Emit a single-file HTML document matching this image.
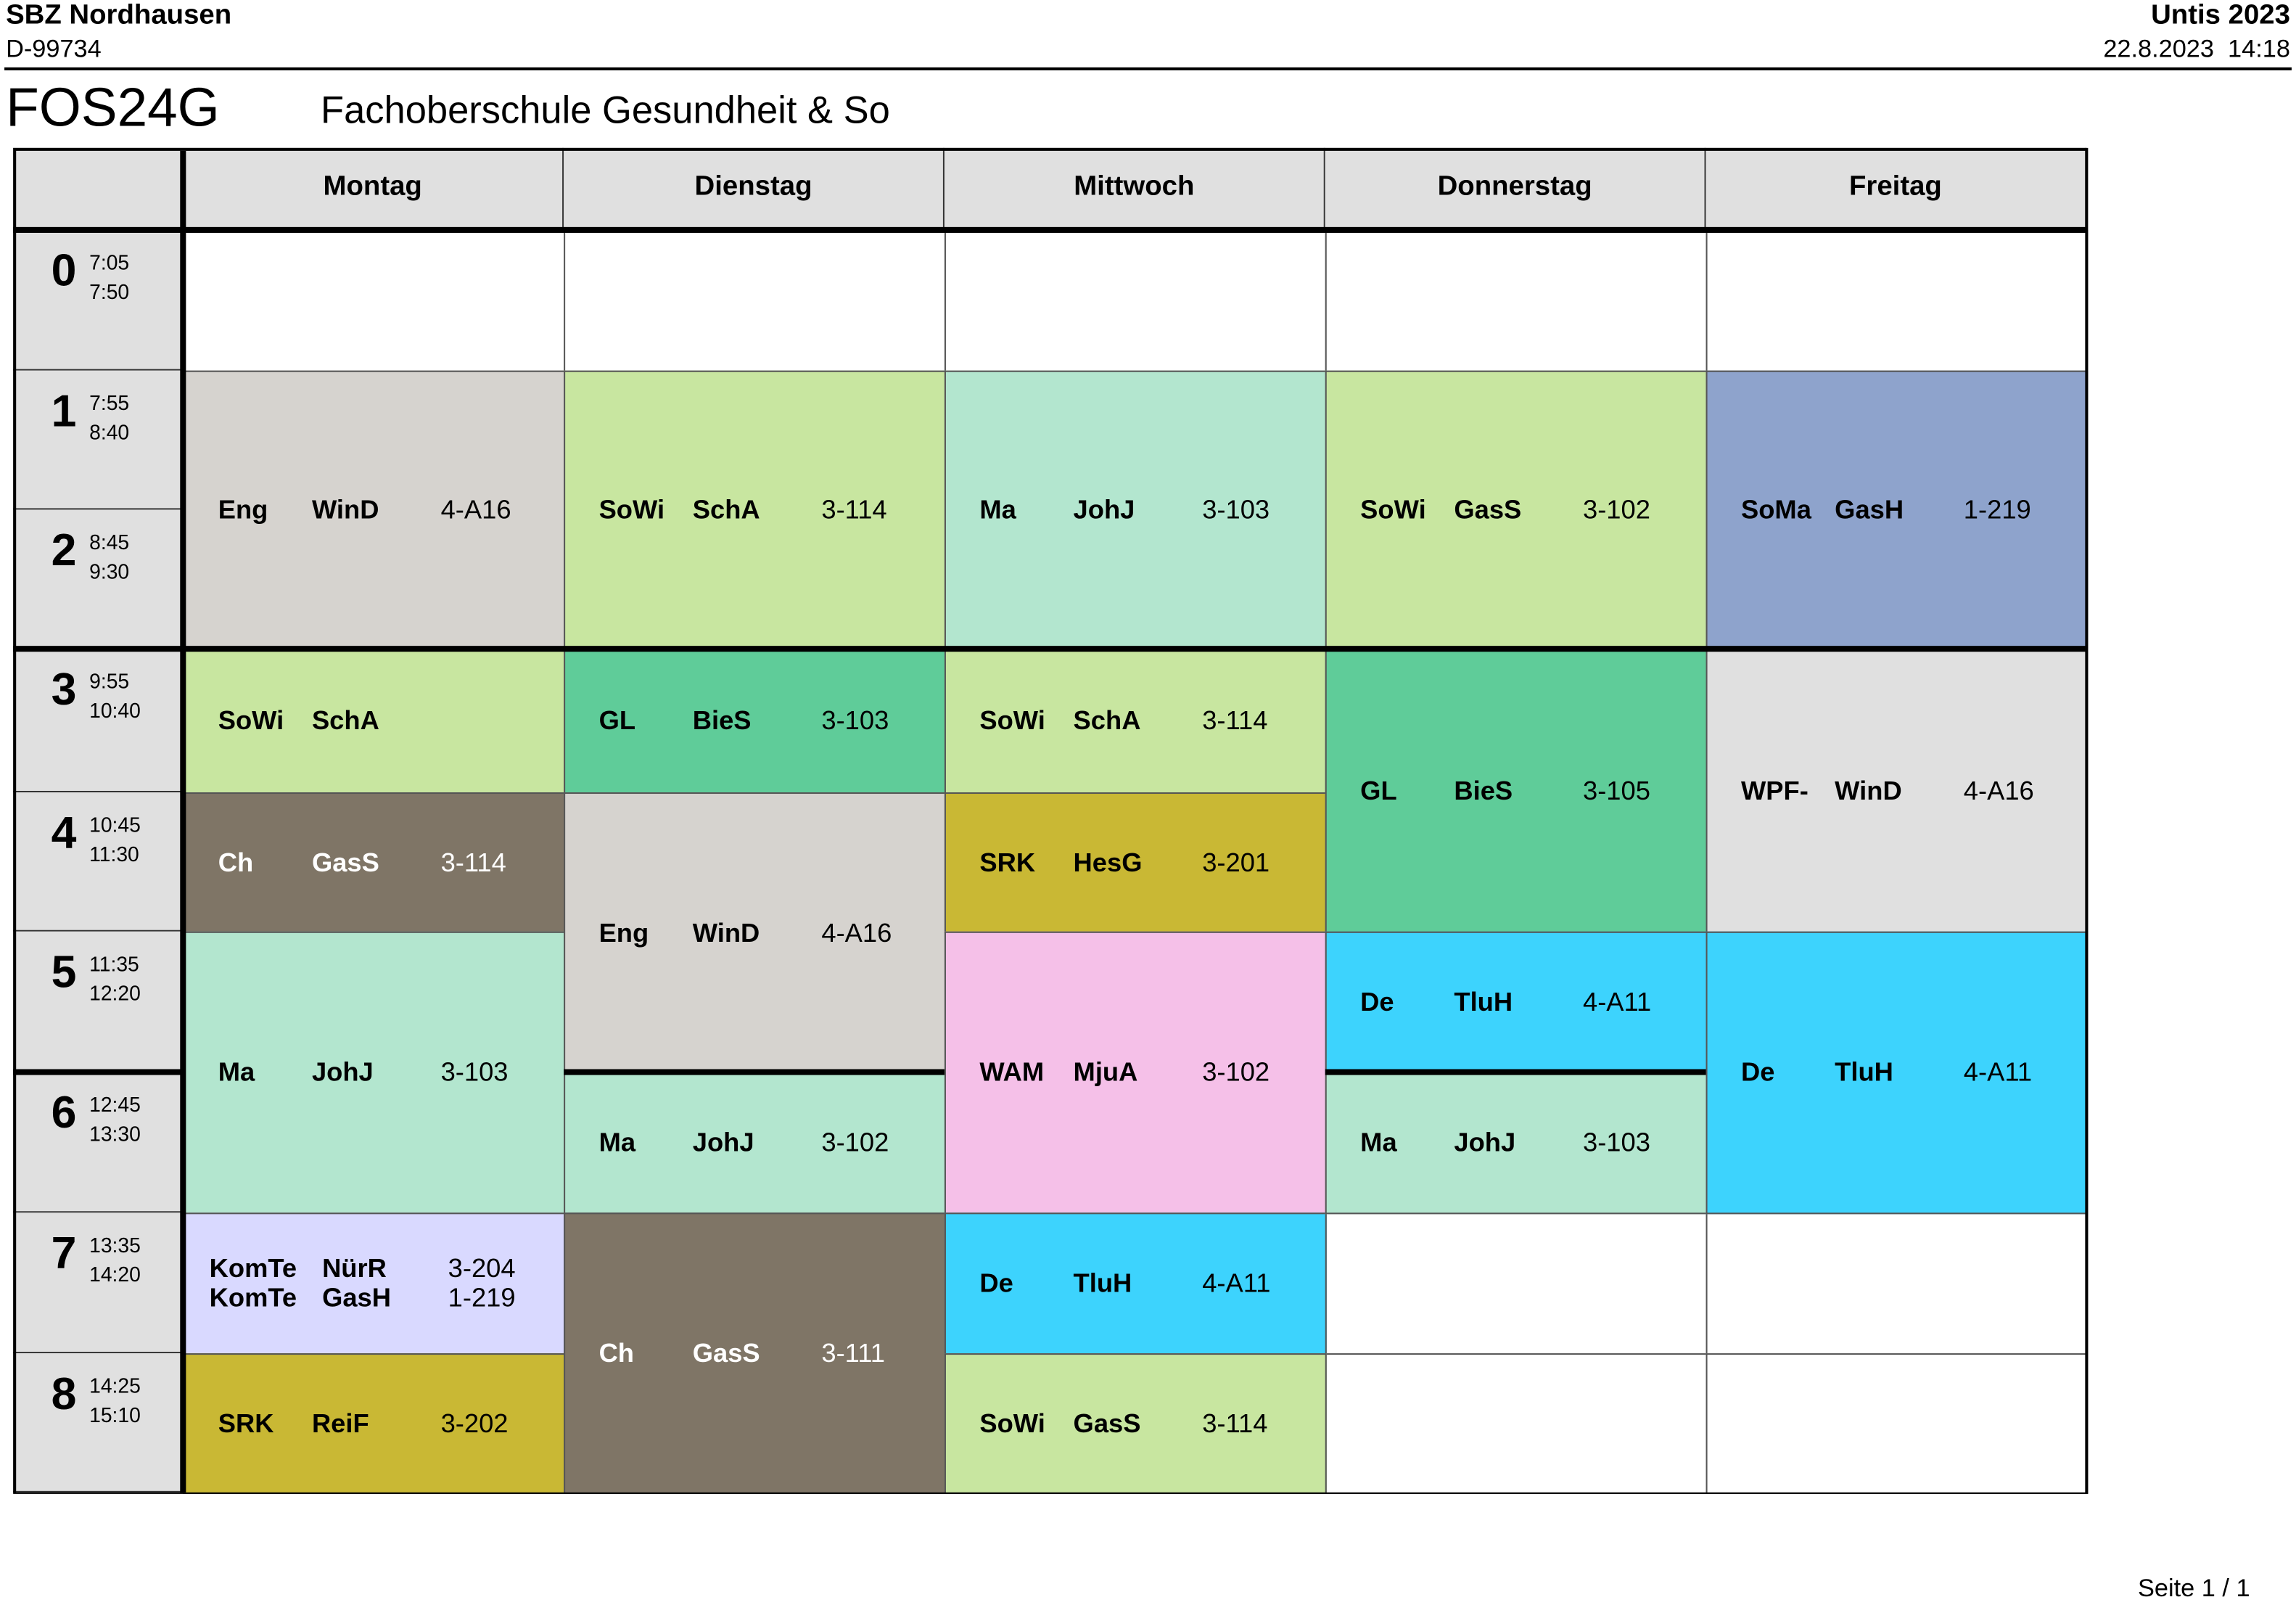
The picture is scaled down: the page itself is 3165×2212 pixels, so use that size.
<!DOCTYPE html>
<html><head><meta charset="utf-8">
<style>
html,body{margin:0;padding:0;background:#fff;}
body{width:3165px;height:2211px;overflow:hidden;position:relative;font-family:"Liberation Sans",Arial,sans-serif;}
#page{position:absolute;left:0;top:0;width:1568px;height:1096px;transform:scale(2.0185);transform-origin:0 0;}
.a{position:absolute;white-space:nowrap;}
.cell{position:absolute;box-sizing:border-box;border:1px solid #555;}
.txt{position:absolute;font-size:18px;line-height:20px;}
.b{font-weight:bold;}
</style></head>
<body>
<div id="page">
  <div class="a b" style="left:4px;top:0px;font-size:19px">SBZ Nordhausen</div>
  <div class="a" style="left:4px;top:24px;font-size:17px">D-99734</div>
  <div class="a b" style="right:4px;top:0px;font-size:19px">Untis 2023</div>
  <div class="a" style="right:4px;top:24px;font-size:17px">22.8.2023&nbsp; 14:18</div>
  <div class="a" style="left:3px;top:46px;width:1562px;height:2px;background:#000"></div>
  <div class="a" style="left:4px;top:53px;font-size:37px">FOS24G</div>
  <div class="a" style="left:219px;top:60px;font-size:26px">Fachoberschule Gesundheit &amp; So</div>
  <div id="grid"></div>
  <div class="a" style="left:1460px;top:1075px;font-size:17px">Seite 1 / 1</div>
</div>
<script>
const days=["Montag","Dienstag","Mittwoch","Donnerstag","Freitag"];
const periods=["0","1","2","3","4","5","6","7","8"];
const startTimes=["7:05","7:55","8:45","9:55","10:45","11:35","12:45","13:35","14:25"];
const endTimes=["7:50","8:40","9:30","10:40","11:30","12:20","13:30","14:20","15:10"];
// lessons: [day, startPeriod, endPeriodExclusive, colorKey, lines]
const lessons=[
 [0,1,3,"grey",[["Eng","WinD","4-A16"]]],
 [0,3,4,"green",[["SoWi","SchA",""]]],
 [0,4,5,"brown",[["Ch","GasS","3-114"]]],
 [0,5,7,"mint",[["Ma","JohJ","3-103"]]],
 [0,7,8,"lav",[["KomTe","NürR","3-204"],["KomTe","GasH","1-219"]]],
 [0,8,9,"olive",[["SRK","ReiF","3-202"]]],
 [1,1,3,"green",[["SoWi","SchA","3-114"]]],
 [1,3,4,"gl",[["GL","BieS","3-103"]]],
 [1,4,6,"grey",[["Eng","WinD","4-A16"]]],
 [1,6,7,"mint",[["Ma","JohJ","3-102"]]],
 [1,7,9,"brown",[["Ch","GasS","3-111"]]],
 [2,1,3,"mint",[["Ma","JohJ","3-103"]]],
 [2,3,4,"green",[["SoWi","SchA","3-114"]]],
 [2,4,5,"olive",[["SRK","HesG","3-201"]]],
 [2,5,7,"pink",[["WAM","MjuA","3-102"]]],
 [2,7,8,"cyan",[["De","TluH","4-A11"]]],
 [2,8,9,"green",[["SoWi","GasS","3-114"]]],
 [3,1,3,"green",[["SoWi","GasS","3-102"]]],
 [3,3,5,"gl",[["GL","BieS","3-105"]]],
 [3,5,6,"cyan",[["De","TluH","4-A11"]]],
 [3,6,7,"mint",[["Ma","JohJ","3-103"]]],
 [4,1,3,"blue",[["SoMa","GasH","1-219"]]],
 [4,3,5,"lgrey",[["WPF-","WinD","4-A16"]]],
 [4,5,7,"cyan",[["De","TluH","4-A11"]]]
];
const colors={grey:"#d6d3cf",green:"#c8e6a0",mint:"#b3e6cf",blue:"#8ea3cc",gl:"#5fcc99",brown:"#7f7566",olive:"#c9b834",lgrey:"#e0e0e0",cyan:"#3dd3fd",pink:"#f5c0e8",lav:"#d9d9ff"};
const whiteText={brown:true};
const grid=document.getElementById('grid');
const X0=9,TW=116,DW=260,Y0=101,HH=56;
const rowY=[157,253,348,443,541,636,732,828,924,1019];
function dayX(d){return X0+TW+d*DW;}
function mk(cls,st){const e=document.createElement('div');e.className=cls;e.style.cssText=st;grid.appendChild(e);return e;}
// background / frame
let e=mk('a',`left:${X0}px;top:${Y0}px;width:${TW+5*DW}px;height:${rowY[9]-Y0}px;border:1px solid #000;box-sizing:border-box;background:#fff`);


days.forEach((d,i)=>{
 const h=mk('a',`left:${dayX(i)}px;top:${Y0}px;width:${DW}px;height:${HH}px;background:#e0e0e0;border-right:1px solid #333;box-sizing:border-box;text-align:center;line-height:54px;font-weight:bold;font-size:19px`);
 h.textContent=d;
 
 
});
e=mk('a',`left:${X0}px;top:${Y0}px;width:${TW}px;height:${HH}px;background:#e0e0e0`);


periods.forEach((p,i)=>{
 const y=rowY[i],h=rowY[i+1]-y;
 const c=mk('a',`left:${X0}px;top:${y}px;width:${TW}px;height:${h}px;background:#e0e0e0;border-bottom:1px solid #333;box-sizing:border-box`);
 
 
 const n=mk('a',`left:${X0+26}px;top:${y+10}px;font-size:31px;font-weight:bold`);n.textContent=p;
 
 
 const t=mk('a',`left:${X0+52}px;top:${y+12}px;font-size:14px;line-height:20px`);t.innerHTML=startTimes[i]+'<br>'+endTimes[i];
 
 
 days.forEach((d,j)=>{
  const s=mk('cell',`left:${dayX(j)}px;top:${y}px;width:${DW+1}px;height:${h+1}px;background:#fff`);
  
  
 });
});
lessons.forEach(L=>{
 const [d,s,en,ck,lines]=L;
 const x=dayX(d),y=rowY[s],h=rowY[en]-y;
 const c=mk('cell',`left:${x}px;top:${y}px;width:${DW+1}px;height:${h+1}px;background:${colors[ck]}`);
 
 
 const lh=20,top=y+h/2-lines.length*lh/2;
 const col=whiteText[ck]?'#fff':'#000';
 lines.forEach((ln,k)=>{
  const ty=top+k*lh;
  const a=mk('txt b',`left:${x+(lines.length>1?18:24)}px;top:${ty}px;color:${col}`);a.textContent=ln[0];
  
  
  const b=mk('txt b',`left:${x+(lines.length>1?95:88)}px;top:${ty}px;color:${col}`);b.textContent=ln[1];
  
  
  const r=mk('txt',`left:${x+(lines.length>1?181:176)}px;top:${ty}px;color:${col}`);r.textContent=ln[2];
  
  
 });
});
// thick lines
function line(st,name){const l=mk('a',st+';background:#000');
 
 }
line(`left:${X0}px;top:${rowY[0]-2}px;width:${TW+5*DW}px;height:4px`,'header-divider');
line(`left:${X0+TW-2}px;top:${Y0+2}px;width:4px;height:${rowY[9]-Y0-2}px`,'time-column-divider');
line(`left:${X0}px;top:${rowY[3]-2}px;width:${TW+5*DW}px;height:4px`,'break-divider');
line(`left:${X0}px;top:${rowY[6]-2}px;width:${TW}px;height:4px`,'lunch-divider-time');
line(`left:${dayX(1)}px;top:${rowY[6]-2}px;width:${DW}px;height:4px`,'lunch-divider-tuesday');
line(`left:${dayX(3)}px;top:${rowY[6]-2}px;width:${DW}px;height:4px`,'lunch-divider-thursday');
e=mk('a',`left:${X0}px;top:${Y0}px;width:${TW+5*DW+1}px;height:${rowY[9]-Y0+1}px;border:2px solid #000;border-bottom-width:1px;box-sizing:border-box`);


</script>
</body></html>
